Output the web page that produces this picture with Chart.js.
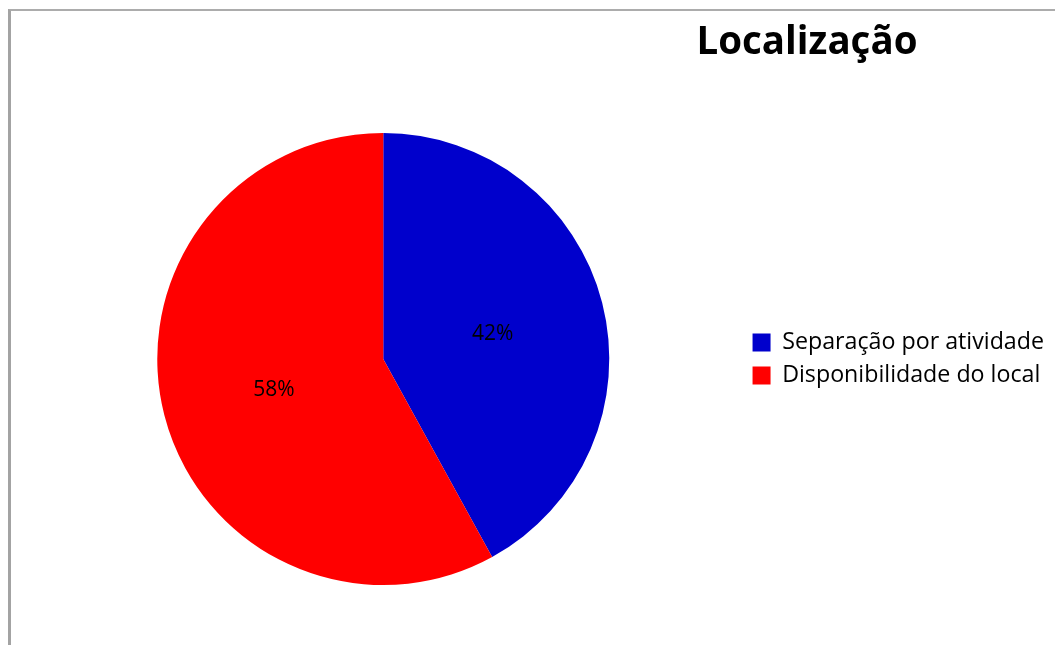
<!DOCTYPE html>
<html>
<head>
<meta charset="utf-8">
<script src="https://cdn.jsdelivr.net/npm/chart.js@4.4.1/dist/chart.umd.min.js"></script>
<style>
  html, body { margin: 0; padding: 0; background: #fff; }
  body { width: 1055px; height: 645px; position: relative; overflow: hidden; }
  #frame {
    position: absolute; left: 8px; top: 9px; right: 0; bottom: 0;
    border-left: 3px solid #a3a3a3; border-top: 2px solid #acacac;
  }
  #wrap { position: absolute; left: 0; top: 0; width: 1055px; height: 645px; }
</style>
</head>
<body>
<div id="frame"></div>
<div id="wrap"><canvas id="pie"></canvas></div>
<script>
const chartTitle = "Localização";
const categories = ["Separação por atividade", "Disponibilidade do local"];
const values = [42, 58];
const sliceColors = ["#0000CC", "#FF0000"];

const FAMILY = "'Open Sans', 'Noto Sans', sans-serif";

// pick a font size so the text spans the given width
function fitSize(text, width, weight) {
    const c = document.createElement("canvas").getContext("2d");
    c.font = `${weight} 100px ${FAMILY}`;
    return 100 * width / c.measureText(text).width;
}

const titleSize  = fitSize(chartTitle, 221, "bold");
const legendSize = fitSize(categories[0], 262, "normal");

const titlePlugin = {
    id: "sideTitle",
    afterDraw(chart) {
        const ctx = chart.ctx;
        ctx.save();
        ctx.font = `bold ${titleSize}px ${FAMILY}`;
        ctx.fillStyle = "#000";
        ctx.textAlign = "center";
        ctx.textBaseline = "alphabetic";
        ctx.fillText(chartTitle, 807, 54);
        ctx.restore();
    }
};

// percentage labels at half radius
const pctPlugin = {
    id: "pctLabels",
    afterDatasetsDraw(chart) {
        const ctx = chart.ctx;
        const total = values.reduce((a, b) => a + b, 0);
        ctx.save();
        ctx.font = `normal 21px ${FAMILY}`;
        ctx.fillStyle = "#000";
        ctx.textAlign = "center";
        ctx.textBaseline = "middle";
        chart.getDatasetMeta(0).data.forEach((arc, i) => {
            const mid = (arc.startAngle + arc.endAngle) / 2;
            const r = arc.outerRadius * 0.5;
            const x = arc.x + Math.cos(mid) * r;
            const y = arc.y + Math.sin(mid) * r + 3;
            ctx.fillText(Math.round(values[i] / total * 100) + "%", x, y);
        });
        ctx.restore();
    }
};

new Chart(document.getElementById("pie"), {
    type: "pie",
    data: {
        labels: categories,
        datasets: [{
            data: values,
            backgroundColor: sliceColors,
            borderWidth: 0,
        }],
    },
    options: {
        responsive: true,
        maintainAspectRatio: false,
        animation: false,
        layout: { padding: { top: 133, bottom: 60, left: 24, right: 1 } },
        plugins: {
            title: { display: false },
            tooltip: { enabled: false },
            legend: {
                position: "right",
                labels: {
                    color: "#000",
                    boxWidth: 18,
                    boxHeight: 18,
                    padding: 10,
                    font: { family: FAMILY, size: legendSize },
                },
            },
        },
    },
    plugins: [pctPlugin, titlePlugin],
});
</script>
</body>
</html>
